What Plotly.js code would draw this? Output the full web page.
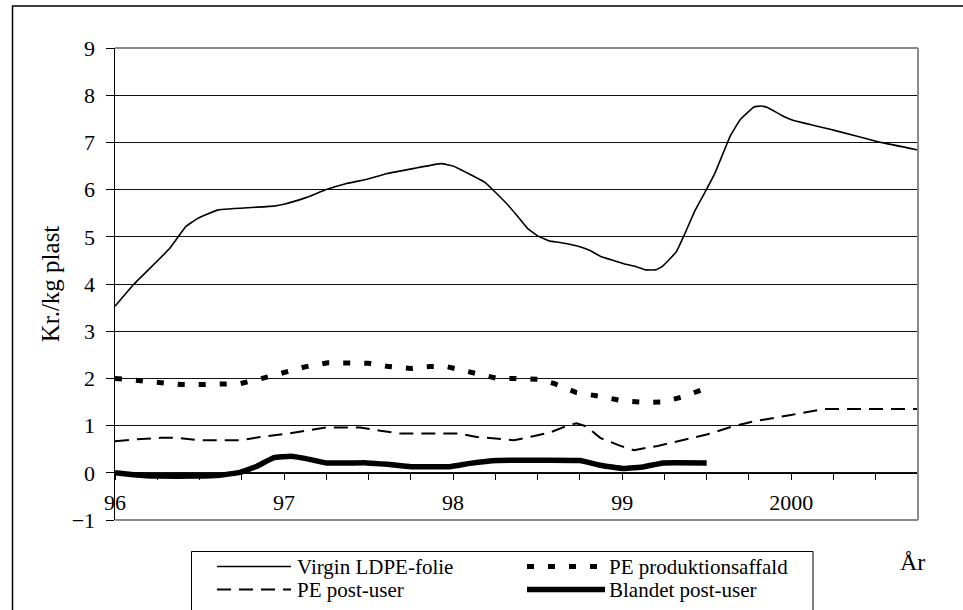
<!DOCTYPE html>
<html>
<head>
<meta charset="utf-8">
<script src="https://cdn.plot.ly/plotly-3.0.1.min.js"></script>
<style>html,body{margin:0;padding:0;background:#fff}#chart{width:963px;height:610px}</style>
</head>
<body>
<div id="chart"></div>
<script>
// ---- data (x in years, 96 = 1996) ----
const seriesNames = ["Virgin LDPE-folie", "PE produktionsaffald", "PE post-user", "Blandet post-user"];

const virginX = [96.00,96.11,96.32,96.42,96.49,96.61,96.94,97.00,97.13,97.25,97.37,97.49,97.61,97.77,97.93,98.00,98.08,98.19,98.32,98.38,98.44,98.50,98.57,98.63,98.74,98.81,98.87,99.01,99.07,99.14,99.20,99.24,99.32,99.37,99.43,99.50,99.55,99.64,99.70,99.78,99.82,99.86,99.95,100.01,100.25,100.53,100.75];
const virginY = [3.53,3.99,4.74,5.22,5.39,5.57,5.65,5.69,5.83,6.00,6.13,6.22,6.34,6.45,6.55,6.50,6.36,6.15,5.69,5.44,5.18,5.02,4.91,4.88,4.80,4.71,4.59,4.43,4.38,4.30,4.30,4.38,4.68,5.06,5.55,6.01,6.36,7.14,7.49,7.75,7.77,7.74,7.56,7.47,7.26,7.00,6.84];

const prodX = [96.00,96.14,96.27,96.39,96.50,96.62,96.74,96.86,96.99,97.13,97.26,97.38,97.50,97.62,97.75,97.86,97.96,98.01,98.13,98.26,98.37,98.48,98.51,98.60,98.73,98.87,99.01,99.14,99.24,99.36,99.48];
const prodY = [2.00,1.95,1.91,1.87,1.87,1.87,1.89,1.99,2.12,2.25,2.33,2.33,2.32,2.25,2.21,2.25,2.25,2.21,2.12,2.00,2.00,1.99,1.98,1.89,1.70,1.62,1.52,1.49,1.50,1.61,1.77];

const postX = [96.00,96.12,96.27,96.37,96.50,96.74,96.86,97.02,97.25,97.45,97.57,97.69,97.88,98.04,98.14,98.28,98.36,98.48,98.57,98.67,98.73,98.79,98.87,98.99,99.07,99.21,99.38,99.50,99.66,99.78,99.99,100.19,100.75];
const postY = [0.67,0.71,0.74,0.74,0.69,0.69,0.76,0.83,0.96,0.96,0.89,0.83,0.83,0.83,0.76,0.71,0.69,0.78,0.85,0.99,1.05,0.98,0.74,0.57,0.48,0.57,0.71,0.81,0.99,1.09,1.22,1.35,1.35];

const blandX = [96.00,96.11,96.25,96.48,96.62,96.74,96.84,96.94,97.04,97.13,97.25,97.49,97.61,97.75,97.98,98.10,98.26,98.75,98.87,99.01,99.13,99.24,99.50];
const blandY = [0.00,-0.04,-0.07,-0.07,-0.05,0.01,0.14,0.32,0.35,0.30,0.21,0.21,0.18,0.13,0.13,0.20,0.26,0.26,0.16,0.09,0.13,0.21,0.21];

const xTickVals = [96,96.25,96.5,96.75,97,97.25,97.5,97.75,98,98.25,98.5,98.75,99,99.25,99.5,99.75,100,100.25,100.5,100.75];
const xTickText = ["96","","","","97","","","","98","","","","99","","","","2000","","",""];
const yTickVals = [-1,0,1,2,3,4,5,6,7,8,9];

// ---- styles ----
const FONT = "Liberation Serif";
const styles = [
  {color:"#000", width:1.6, dash:"solid", shape:"spline"},
  {color:"#000", width:5,   dash:"7px,14px", shape:"linear"},
  {color:"#000", width:2,   dash:"14px,8px", shape:"linear"},
  {color:"#000", width:5.5, dash:"solid", shape:"spline"}
];
const xs = [virginX, prodX, postX, blandX];
const ys = [virginY, prodY, postY, blandY];

const traces = seriesNames.map((n,i)=>({
  type:"scatter", mode:"lines", name:n, x:xs[i], y:ys[i], showlegend:false, hoverinfo:"skip",
  line:{color:styles[i].color, width:styles[i].width, dash:styles[i].dash, shape:styles[i].shape, smoothing:0.3}
}));

// pixel -> paper helpers (plot area: x 115..918, y 48..520)
const L=115, R=45, T=48, B=90, W=963, H=610;
const PW=W-L-R, PH=H-T-B;
const px = v => (v-L)/PW;
const py = v => (H-B-v)/PH;

const shapes = [
  // outer frame
  {type:"rect", xref:"paper", yref:"paper", x0:px(12.5), x1:px(970), y0:py(620), y1:py(6), line:{color:"#000", width:1.5}, layer:"below"},
  // plot-area border (gray): top, right, bottom
  {type:"line", xref:"paper", yref:"paper", x0:0, x1:1, y0:1, y1:1, line:{color:"#8a8a8a", width:2}, layer:"above"},
  {type:"line", xref:"paper", yref:"paper", x0:1, x1:1, y0:0, y1:1, line:{color:"#8a8a8a", width:2}, layer:"above"},
  {type:"line", xref:"paper", yref:"paper", x0:0, x1:1, y0:0, y1:0, line:{color:"#8a8a8a", width:2}, layer:"above"},
  // legend box
  {type:"rect", xref:"paper", yref:"paper", x0:px(191.5), x1:px(813), y0:py(620), y1:py(551.5), line:{color:"#000", width:1}, layer:"below"}
];
const annotations = [
  {xref:"paper", yref:"paper", x:px(912), y:py(562), text:"År", showarrow:false, xanchor:"center", yanchor:"middle", font:{family:FONT, size:24, color:"#000"}}
];
// custom legend in two columns
const legCols = [{x0:217, x1:291, tx:295}, {x0:527, x1:605, tx:607}];
const legRows = [566.5, 589.5];
seriesNames.forEach((n,i)=>{
  const c = legCols[i%2], r = legRows[Math.floor(i/2)];
  shapes.push({type:"line", xref:"paper", yref:"paper", x0:px(c.x0), x1:px(c.x1), y0:py(r), y1:py(r),
    line:{color:styles[i].color, width:styles[i].width, dash:styles[i].dash}});
  annotations.push({xref:"paper", yref:"paper", x:px(c.tx), y:py(r), text:n, showarrow:false, xanchor:"left", yanchor:"middle",
    font:{family:FONT, size:21, color:"#000"}});
});

const layout = {
  width:W, height:H,
  margin:{l:L, r:R, t:T, b:B, pad:0},
  paper_bgcolor:"#fff", plot_bgcolor:"#fff",
  font:{family:FONT, color:"#000"},
  showlegend:false,
  xaxis:{
    range:[96,100.75], tickmode:"array", tickvals:xTickVals, ticktext:xTickText,
    ticks:"outside", ticklen:6, tickwidth:1, tickcolor:"#000",
    showline:true, linecolor:"#000", linewidth:1, showgrid:false, zeroline:false,
    anchor:"free", position:0.1, ticklabelstandoff:4,
    tickfont:{family:FONT, size:22, color:"#000"}
  },
  yaxis:{
    range:[-1,9], tickmode:"array", tickvals:yTickVals,
    ticks:"outside", ticklen:8, tickwidth:1, tickcolor:"#000",
    showline:true, linecolor:"#000", linewidth:1.5,
    showgrid:true, gridcolor:"#111", gridwidth:1, zeroline:false,
    ticklabelstandoff:6,
    tickfont:{family:FONT, size:22, color:"#000"},
    title:{text:"Kr./kg plast", standoff:5, font:{family:FONT, size:25, color:"#000"}}
  },
  shapes:shapes, annotations:annotations
};

Plotly.newPlot("chart", traces, layout, {staticPlot:true, displayModeBar:false});
</script>
</body>
</html>
